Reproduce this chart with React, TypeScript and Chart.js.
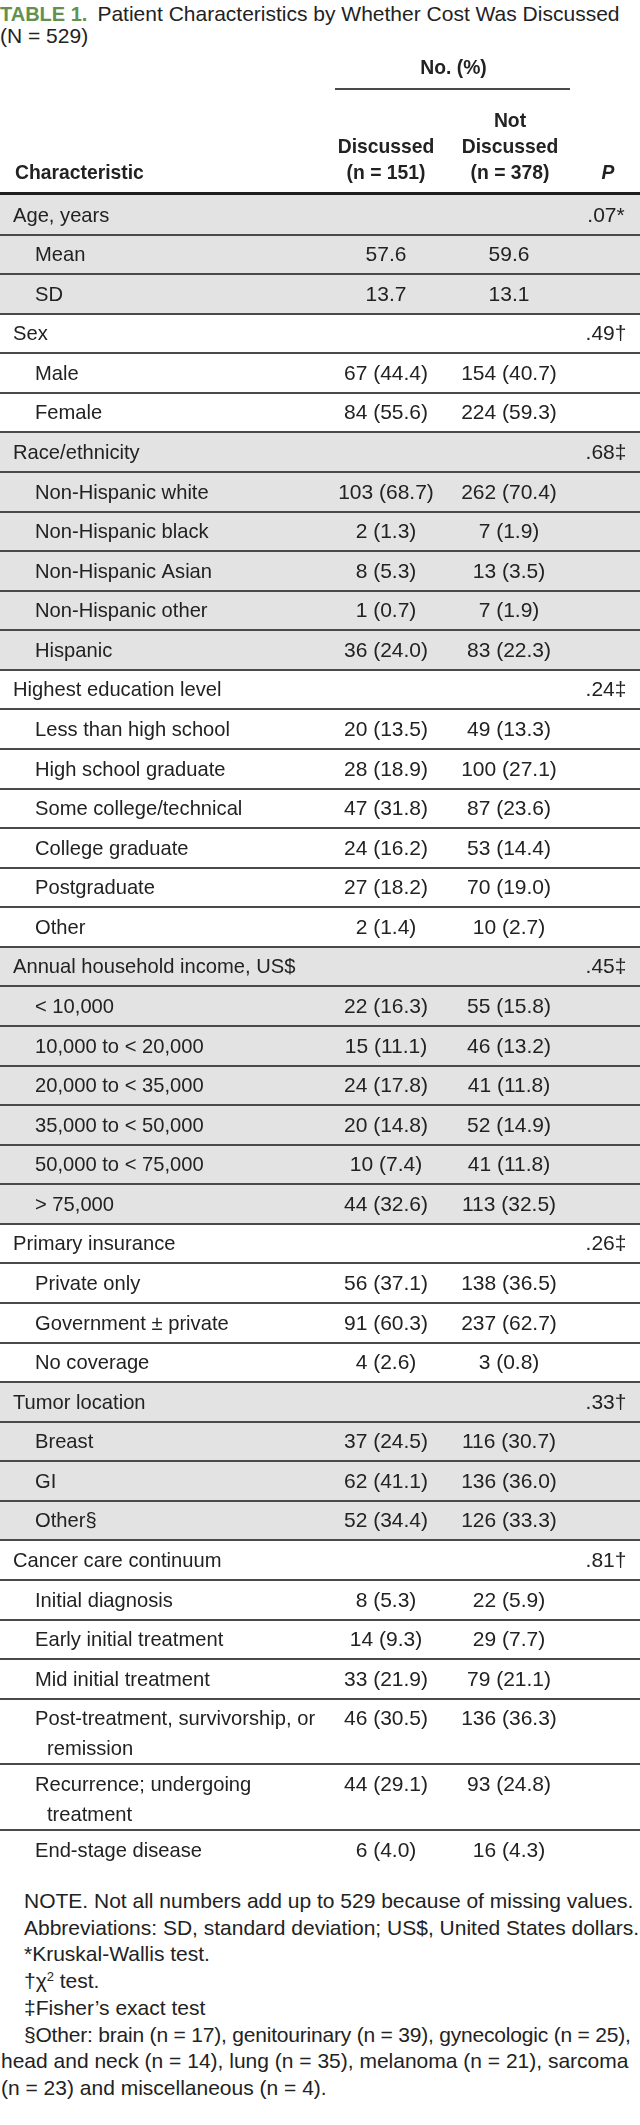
import React, { useEffect, useRef } from "react";
import { Chart, registerables } from "chart.js";

Chart.register(...registerables);

const FONT = '"Liberation Sans", Arial, Helvetica, sans-serif';

// ---------------- data ----------------
const rowLabels = [
  "Age, years", "Mean", "SD",
  "Sex", "Male", "Female",
  "Race/ethnicity", "Non-Hispanic white", "Non-Hispanic black", "Non-Hispanic Asian", "Non-Hispanic other", "Hispanic",
  "Highest education level", "Less than high school", "High school graduate", "Some college/technical", "College graduate", "Postgraduate", "Other",
  "Annual household income, US$", "< 10,000", "10,000 to < 20,000", "20,000 to < 35,000", "35,000 to < 50,000", "50,000 to < 75,000", "> 75,000",
  "Primary insurance", "Private only", "Government \u00b1 private", "No coverage",
  "Tumor location", "Breast", "GI", "Other\u00a7",
  "Cancer care continuum", "Initial diagnosis", "Early initial treatment", "Mid initial treatment",
  "Post-treatment, survivorship, or\nremission", "Recurrence; undergoing\ntreatment", "End-stage disease",
];

const discussedCount = [
  null, 57.6, 13.7,
  null, 67, 84,
  null, 103, 2, 8, 1, 36,
  null, 20, 28, 47, 24, 27, 2,
  null, 22, 15, 24, 20, 10, 44,
  null, 56, 91, 4,
  null, 37, 62, 52,
  null, 8, 14, 33, 46, 44, 6,
];
const discussedPct = [
  null, null, null,
  null, 44.4, 55.6,
  null, 68.7, 1.3, 5.3, 0.7, 24.0,
  null, 13.5, 18.9, 31.8, 16.2, 18.2, 1.4,
  null, 16.3, 11.1, 17.8, 14.8, 7.4, 32.6,
  null, 37.1, 60.3, 2.6,
  null, 24.5, 41.1, 34.4,
  null, 5.3, 9.3, 21.9, 30.5, 29.1, 4.0,
];
const notDiscussedCount = [
  null, 59.6, 13.1,
  null, 154, 224,
  null, 262, 7, 13, 7, 83,
  null, 49, 100, 87, 53, 70, 10,
  null, 55, 46, 41, 52, 41, 113,
  null, 138, 237, 3,
  null, 116, 136, 126,
  null, 22, 29, 79, 136, 93, 16,
];
const notDiscussedPct = [
  null, null, null,
  null, 40.7, 59.3,
  null, 70.4, 1.9, 3.5, 1.9, 22.3,
  null, 13.3, 27.1, 23.6, 14.4, 19.0, 2.7,
  null, 15.8, 13.2, 11.8, 14.9, 11.8, 32.5,
  null, 36.5, 62.7, 0.8,
  null, 30.7, 36.0, 33.3,
  null, 5.9, 7.7, 21.1, 36.3, 24.8, 4.3,
];
const pValues = [
  ".07*", null, null,
  ".49\u2020", null, null,
  ".68\u2021", null, null, null, null, null,
  ".24\u2021", null, null, null, null, null, null,
  ".45\u2021", null, null, null, null, null, null,
  ".26\u2021", null, null, null,
  ".33\u2020", null, null, null,
  ".81\u2020", null, null, null, null, null, null,
];

const spanHeader = "No. (%)";
const firstHeader = "Characteristic";
const columnHeaders = [["Discussed", "(n = 151)"], ["Not", "Discussed", "(n = 378)"]];
const pHeader = "P";

const titleLabel = "TABLE 1.";
const titleText = "Patient Characteristics by Whether Cost Was Discussed";
const titleLine2 = "(N = 529)";

// ---------------- layout ----------------
const W = 640;
const ROW_PX = 39.57;
const EXTRA_LINE_UNITS = 0.66;
const LINE_GAP = 30;
const BODY_TOP = 145;
const CANVAS_TOP = 50;
const TEXT = "#222222";
const GRAY = "#e3e3e3";
const RULE = "#4a4a4a";
const X_GROUP = 13;
const X_SUB = 35;
const X_D = 386;
const X_N = 509;
const X_P = 606;
const BODY_FONT = `21px ${FONT}`;
const LABEL_SX = 0.96;
const HEAD_FONT = `bold 21px ${FONT}`;
const HEAD_SX = 0.92;

const rowUnits = rowLabels.map((l) => 1 + EXTRA_LINE_UNITS * (l.split("\n").length - 1));
const rowStarts: number[] = [];
rowUnits.reduce((acc, u) => {
  rowStarts.push(acc);
  return acc + u;
}, 0);
const totalUnits = rowUnits.reduce((a, b) => a + b, 0);
const groupIndex: number[] = [];
{
  let g = -1;
  pValues.forEach((p) => {
    if (p !== null) g += 1;
    groupIndex.push(g);
  });
}
const BODY_H = totalUnits * ROW_PX;
const CANVAS_H = Math.round(BODY_TOP + BODY_H + 4);

function fmt(c: number | null, p: number | null): string | null {
  if (c === null) return null;
  if (p === null) return Number.isInteger(c) ? String(c) : c.toFixed(1);
  return `${c} (${p.toFixed(1)})`;
}

const discussedText = discussedCount.map((c, i) => fmt(c, discussedPct[i]));
const notDiscussedText = notDiscussedCount.map((c, i) => fmt(c, notDiscussedPct[i]));
const columnTexts: (string | null)[][] = [rowLabels, discussedText, notDiscussedText, pValues];

function drawText(ctx: any, t: string, x: number, y: number, align: string, sx = 1) {
  const w = ctx.measureText(t).width * sx;
  const left = align === "center" ? x - w / 2 : align === "right" ? x - w : x;
  ctx.save();
  ctx.translate(left, y);
  ctx.scale(sx, 1);
  ctx.textAlign = "left";
  ctx.fillText(t, 0, 0);
  ctx.restore();
}

const tablePlugin = {
  id: "tableDraw",
  beforeDatasetsDraw(chart: any) {
    const { ctx, chartArea, scales } = chart;
    const y = scales.y;
    ctx.save();
    rowStarts.forEach((s, i) => {
      if (groupIndex[i] % 2 === 0) {
        const y0 = y.getPixelForValue(s);
        const y1 = y.getPixelForValue(s + rowUnits[i]);
        ctx.fillStyle = GRAY;
        ctx.fillRect(0, y0, W, y1 - y0);
      }
    });
    ctx.fillStyle = RULE;
    for (let i = 1; i < rowStarts.length; i++) {
      const yy = Math.round(y.getPixelForValue(rowStarts[i]));
      ctx.fillRect(0, yy - 1, W, 2);
    }
    const top = chartArea.top;
    ctx.fillStyle = "#1e1e1e";
    ctx.fillRect(0, top - 3, W, 3);
    ctx.fillStyle = TEXT;
    ctx.textBaseline = "middle";
    ctx.font = HEAD_FONT;
    drawText(ctx, spanHeader, (X_D + X_N) / 2 + 6, top - 127, "center", HEAD_SX);
    ctx.fillStyle = RULE;
    ctx.fillRect(335, top - 107, 235, 2);
    ctx.fillStyle = TEXT;
    const lineYs = [top - 22, top - 48, top - 74];
    const xs = [X_D, X_N + 1];
    columnHeaders.forEach((lines, c) => {
      lines.slice().reverse().forEach((t, k) => {
        drawText(ctx, t, xs[c], lineYs[k], "center", HEAD_SX);
      });
    });
    drawText(ctx, firstHeader, 15, top - 22, "left", HEAD_SX);
    ctx.font = `italic bold 21px ${FONT}`;
    drawText(ctx, pHeader, X_P + 2, top - 22, "center", HEAD_SX);
    ctx.restore();
  },
  afterDatasetsDraw(chart: any) {
    const { ctx } = chart;
    ctx.save();
    ctx.fillStyle = TEXT;
    ctx.textBaseline = "middle";
    ctx.font = BODY_FONT;
    chart.data.datasets.forEach((_: any, d: number) => {
      const meta = chart.getDatasetMeta(d);
      meta.data.forEach((el: any, i: number) => {
        const t = columnTexts[d][i];
        if (t === null || t === undefined) return;
        const lines = t.split("\n");
        lines.forEach((ln: string, k: number) => {
          drawText(
            ctx,
            ln,
            el.x + (k > 0 ? 12 : 0),
            el.y + 1 + k * LINE_GAP,
            d === 0 ? "left" : "center",
            d === 0 ? LABEL_SX : 1
          );
        });
      });
    });
    ctx.restore();
  },
};

function TableChart() {
  const ref = useRef<HTMLCanvasElement | null>(null);
  useEffect(() => {
    if (!ref.current) return;
    const mk = (xv: (i: number) => number) =>
      rowStarts.map((s, i) => ({ x: xv(i), y: s + 0.5 }));
    const chart = new Chart(ref.current, {
      type: "scatter",
      data: {
        datasets: [
          { label: firstHeader, data: mk((i) => (pValues[i] !== null ? X_GROUP : X_SUB)), pointRadius: 0 },
          { label: "Discussed", data: mk(() => X_D), pointRadius: 0 },
          { label: "Not Discussed", data: mk(() => X_N), pointRadius: 0 },
          { label: pHeader, data: mk(() => X_P), pointRadius: 0 },
        ],
      },
      options: {
        animation: false,
        responsive: false,
        devicePixelRatio: 1,
        events: [],
        layout: { padding: { top: BODY_TOP, bottom: CANVAS_H - BODY_TOP - BODY_H, left: 0, right: 0 } },
        scales: {
          x: { type: "linear", min: 0, max: W, display: false },
          y: { type: "linear", min: 0, max: totalUnits, reverse: true, display: false },
        },
        plugins: { legend: { display: false }, tooltip: { enabled: false } },
      },
      plugins: [tablePlugin],
    } as any);
    return () => chart.destroy();
  }, []);
  return <canvas ref={ref} width={W} height={CANVAS_H} style={{ display: "block", width: W, height: CANVAS_H }} />;
}

const noteLines: { indent: number; spacing: number; content: React.ReactNode }[] = [
  { indent: 24, spacing: 0, content: "NOTE. Not all numbers add up to 529 because of missing values." },
  { indent: 24, spacing: 0, content: "Abbreviations: SD, standard deviation; US$, United States dollars." },
  { indent: 24, spacing: 0, content: "*Kruskal-Wallis test." },
  {
    indent: 24,
    spacing: 0,
    content: (
      <>
        {"\u2020\u03c7"}
        <sup style={{ fontSize: 13, lineHeight: 0, verticalAlign: "7px" }}>2</sup> test.
      </>
    ),
  },
  { indent: 24, spacing: 0, content: "\u2021Fisher\u2019s exact test" },
  { indent: 24, spacing: -0.2, content: "\u00a7Other: brain (n = 17), genitourinary (n = 39), gynecologic (n = 25)," },
  { indent: 1, spacing: 0, content: "head and neck (n = 14), lung (n = 35), melanoma (n = 21), sarcoma" },
  { indent: 1, spacing: 0, content: "(n = 23) and miscellaneous (n = 4)." },
];

export default function App() {
  useEffect(() => {
    document.body.style.margin = "0";
    document.body.style.background = "#ffffff";
  }, []);
  return (
    <div
      style={{
        position: "relative",
        width: W,
        height: 2125,
        overflow: "hidden",
        background: "#fff",
        fontFamily: FONT,
        color: TEXT,
      }}
    >
      <div style={{ position: "absolute", top: 3, left: 0, lineHeight: "22px", fontSize: 21, whiteSpace: "nowrap" }}>
        <span style={{ fontWeight: "bold", color: "#64904f", fontSize: 20 }}>{titleLabel}</span>
        <span style={{ marginLeft: 10 }}>{titleText}</span>
        <br />
        {titleLine2}
      </div>
      <div style={{ position: "absolute", top: CANVAS_TOP, left: 0 }}>
        <TableChart />
      </div>
      <div style={{ position: "absolute", top: 1888, left: 0, width: W, fontSize: 21, lineHeight: "26.7px" }}>
        {noteLines.map((l, i) => (
          <div key={i} style={{ paddingLeft: l.indent, whiteSpace: "nowrap", letterSpacing: `${l.spacing}px` }}>
            {l.content}
          </div>
        ))}
      </div>
    </div>
  );
}
